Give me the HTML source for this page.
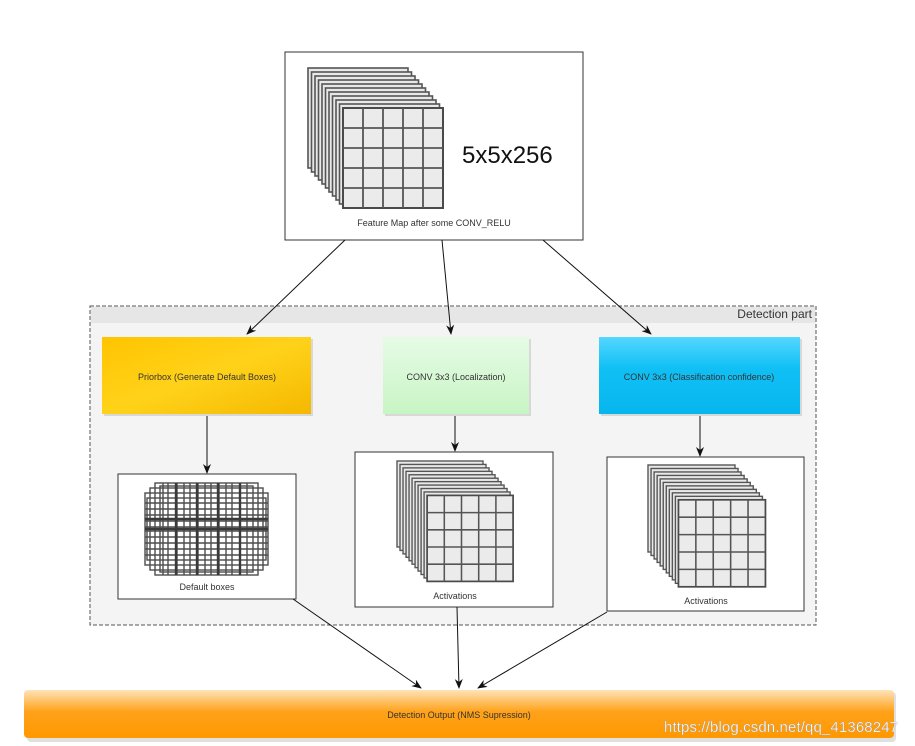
<!DOCTYPE html>
<html><head><meta charset="utf-8"><style>
html,body{margin:0;padding:0;background:#fff;}
svg{display:block;font-family:"Liberation Sans","DejaVu Sans",sans-serif;}
</style></head><body>
<svg width="915" height="746" viewBox="0 0 915 746" xmlns="http://www.w3.org/2000/svg">
<defs>
  <linearGradient id="gy" x1="0" y1="0" x2="1" y2="1"><stop offset="0" stop-color="#ffc400"/><stop offset="0.5" stop-color="#ffd21a"/><stop offset="1" stop-color="#f5b800"/></linearGradient>
  <linearGradient id="gg" x1="0" y1="0" x2="0" y2="1"><stop offset="0" stop-color="#e6fbe6"/><stop offset="1" stop-color="#c8f5c4"/></linearGradient>
  <linearGradient id="gc" x1="0" y1="0" x2="0" y2="1"><stop offset="0" stop-color="#55d6ff"/><stop offset="0.4" stop-color="#10c0f5"/><stop offset="1" stop-color="#08b6ee"/></linearGradient>
  <linearGradient id="go" x1="0" y1="0" x2="0" y2="1"><stop offset="0" stop-color="#ffe3b8"/><stop offset="0.45" stop-color="#ffa21a"/><stop offset="1" stop-color="#ff9800"/></linearGradient>
  <marker id="ar" markerWidth="10" markerHeight="10" refX="9" refY="5" orient="auto" markerUnits="userSpaceOnUse"><path d="M0,1 L10,5 L0,9 L3,5 z" fill="#111"/></marker>
  <g id="layer"><rect x="0" y="0" width="100" height="100" fill="#e8e8e8" stroke="#555" stroke-width="1.6"/></g>
  <g id="grid"><rect x="0" y="0" width="100" height="100" fill="#ebebeb" stroke="#4a4a4a" stroke-width="2"/>
    <path d="M20,0V100M40,0V100M60,0V100M80,0V100M0,20H100M0,40H100M0,60H100M0,80H100" stroke="#555" stroke-width="1.8"/></g>
  <g id="stack">
    <use href="#layer" x="0" y="0"/><use href="#layer" x="3.5" y="4"/><use href="#layer" x="7" y="8"/><use href="#layer" x="10.5" y="12"/><use href="#layer" x="14" y="16"/><use href="#layer" x="17.5" y="20"/><use href="#layer" x="21" y="24"/><use href="#layer" x="24.5" y="28"/><use href="#layer" x="28" y="32"/><use href="#layer" x="31.5" y="36"/><use href="#grid" x="35" y="40"/>
  </g>
</defs>

<rect x="285" y="52" width="298" height="188" fill="#fff" stroke="#333" stroke-width="1"/>
<use href="#stack" x="308" y="68"/>
<text x="462" y="163" font-size="24" fill="#111">5x5x256</text>
<text x="434" y="226" font-size="9" fill="#333" text-anchor="middle">Feature Map after some CONV_RELU</text>

<rect x="90" y="306" width="726" height="319" fill="#f4f4f4" stroke="#555" stroke-width="1" stroke-dasharray="4,2"/>
<rect x="91" y="307" width="724" height="16" fill="#e6e6e6"/>
<text x="812" y="318" font-size="12" fill="#333" text-anchor="end">Detection part</text>

<line x1="345" y1="240" x2="247" y2="334" stroke="#111" marker-end="url(#ar)"/>
<line x1="442" y1="240" x2="451" y2="334" stroke="#111" marker-end="url(#ar)"/>
<line x1="543" y1="240" x2="651" y2="334" stroke="#111" marker-end="url(#ar)"/>

<rect x="104" y="339" width="209" height="77" fill="#bbb" opacity="0.5"/>
<rect x="102" y="337" width="209" height="77" fill="url(#gy)"/>
<text x="207" y="380" font-size="9" fill="#333" text-anchor="middle">Priorbox (Generate Default Boxes)</text>
<rect x="385" y="339" width="146" height="77" fill="#bbb" opacity="0.5"/>
<rect x="383" y="337" width="146" height="77" fill="url(#gg)"/>
<text x="456" y="380" font-size="9" fill="#333" text-anchor="middle">CONV 3x3 (Localization)</text>
<rect x="601" y="339" width="201" height="77" fill="#bbb" opacity="0.5"/>
<rect x="599" y="337" width="201" height="77" fill="url(#gc)"/>
<text x="699" y="380" font-size="9" fill="#333" text-anchor="middle">CONV 3x3 (Classification confidence)</text>

<line x1="207" y1="416" x2="207" y2="473" stroke="#111" marker-end="url(#ar)"/>
<line x1="455" y1="416" x2="455" y2="451" stroke="#111" marker-end="url(#ar)"/>
<line x1="700" y1="416" x2="700" y2="456" stroke="#111" marker-end="url(#ar)"/>

<rect x="118" y="474" width="178" height="125" fill="#fff" stroke="#333"/>
<g fill="none" stroke="#4d4d4d" stroke-width="1.4">
  <rect x="155" y="483" width="103" height="92"/>
  <rect x="145" y="493" width="123" height="72"/>
  <rect x="150" y="488" width="113" height="82"/>
  <rect x="160" y="486" width="93" height="86"/>
  <rect x="147" y="498" width="119" height="62"/>
  <path d="M163,483V575M168,483V575M177,483V575M184,483V575M190,483V575M198,483V575M205,483V575M211,483V575M219,483V575M226,483V575M232,483V575M240,483V575M247,483V575"/>
  <path d="M145,503H268M145,509H268M145,515H268M145,521H268M145,527H268M145,531H268M145,537H268M145,543H268M145,549H268M145,555H268"/>
</g>
<g stroke="#3a3a3a" stroke-width="2.4"><path d="M176,483V575M197,483V575M218,483V575M240,483V575M145,519H268M145,529H268"/></g>
<text x="207" y="590" font-size="9" fill="#333" text-anchor="middle">Default boxes</text>

<rect x="355" y="452" width="198" height="155" fill="#fff" stroke="#333"/>
<use href="#stack" transform="translate(397,461) scale(0.86)"/>
<text x="455" y="599" font-size="9" fill="#333" text-anchor="middle">Activations</text>

<rect x="607" y="457" width="197" height="154" fill="#fff" stroke="#333"/>
<use href="#stack" transform="translate(648,465) scale(0.87)"/>
<text x="706" y="604" font-size="9" fill="#333" text-anchor="middle">Activations</text>

<line x1="293" y1="599" x2="421" y2="688" stroke="#111" marker-end="url(#ar)"/>
<line x1="457" y1="607" x2="459" y2="688" stroke="#111" marker-end="url(#ar)"/>
<line x1="607" y1="612" x2="478" y2="688" stroke="#111" marker-end="url(#ar)"/>

<rect x="27" y="692" width="869" height="50" rx="4" fill="#ccc" opacity="0.6"/>
<rect x="24" y="690" width="870" height="48" rx="4" fill="url(#go)"/>
<text x="459" y="718" font-size="9" fill="#333" text-anchor="middle">Detection Output (NMS Supression)</text>
<text x="664" y="732" font-size="15" fill="#fff" stroke="#999" stroke-width="0.3" textLength="234">https://blog.csdn.net/qq_41368247</text>
</svg>
</body></html>
